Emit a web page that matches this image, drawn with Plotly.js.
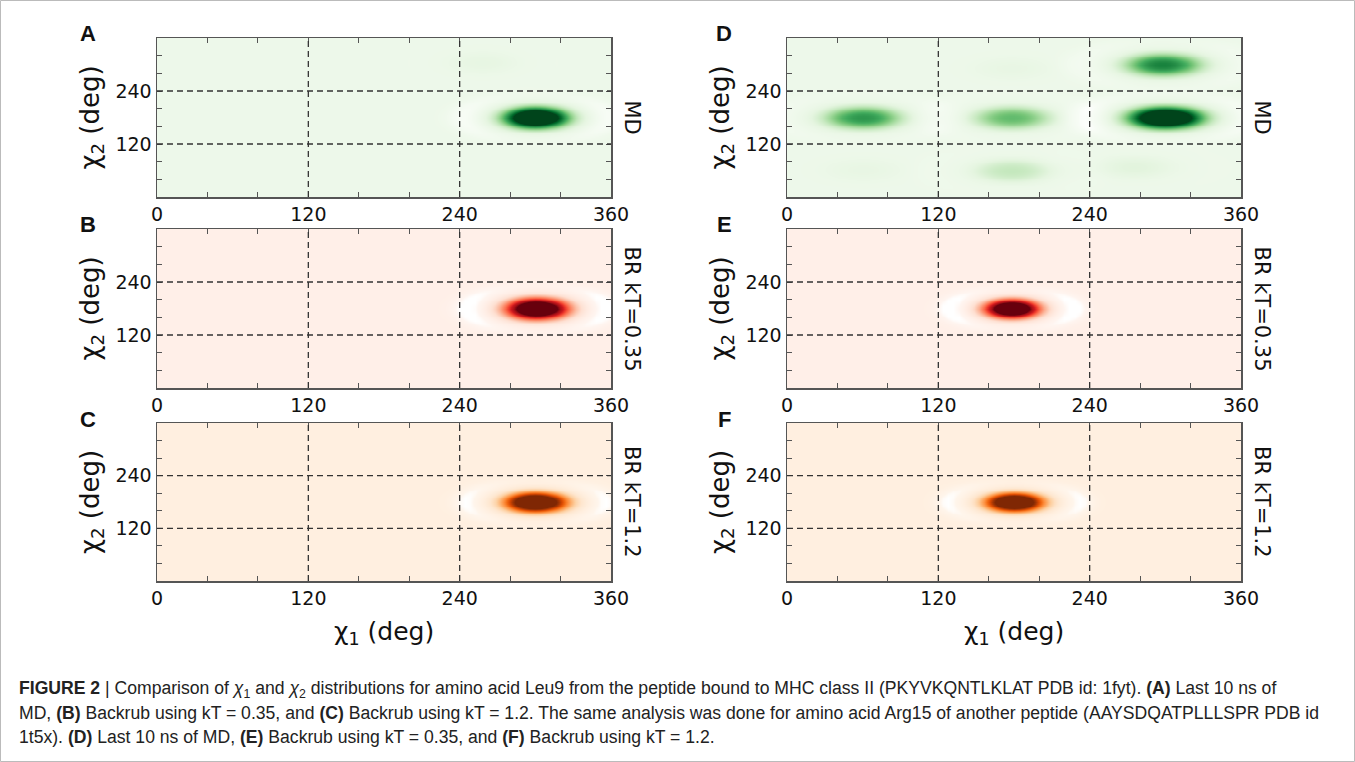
<!DOCTYPE html>
<html>
<head>
<meta charset="utf-8">
<script src="https://cdn.plot.ly/plotly-3.0.1.min.js"></script>
<style>html,body{margin:0;padding:0;background:#fff;}#chart{width:1355px;height:762px;}</style>
</head>
<body>
<div id="chart"></div>
<script>
// ---- Data (density peaks per panel, degrees) ----
const panelLetters = ["A", "B", "C", "D", "E", "F"];
const panelLabels = ["MD", "BR kT=0.35", "BR kT=1.2", "MD", "BR kT=0.35", "BR kT=1.2"];
const xTickVals = [0, 120, 240, 360];
const yTickVals = [120, 240];
const minorTickVals = [40, 80, 160, 200, 280, 320];
const gridVals = [120, 240];

// Panel A: Leu9 MD
const peaksA_x = [300, 258];
const peaksA_y = [180, 305];
const peaksA_amp = [1.0, 0.03];
// Panel B: Leu9 Backrub kT=0.35
const peaksB_x = [301];
const peaksB_y = [180];
const peaksB_amp = [1.0];
// Panel C: Leu9 Backrub kT=1.2
const peaksC_x = [300];
const peaksC_y = [180];
const peaksC_amp = [1.0];
// Panel D: Arg15 MD
const peaksD_x = [300, 298, 60, 178, 178, 275, 60, 178];
const peaksD_y = [180, 300, 180, 180, 60, 68, 62, 292];
const peaksD_amp = [1.0, 0.53, 0.47, 0.35, 0.14, 0.05, 0.025, 0.025];
// Panel E: Arg15 Backrub kT=0.35
const peaksE_x = [178];
const peaksE_y = [180];
const peaksE_amp = [1.0];
// Panel F: Arg15 Backrub kT=1.2
const peaksF_x = [180];
const peaksF_y = [180];
const peaksF_amp = [1.0];

const sigmaX = [19.5, 18.5, 18.5, 22.5, 16.5, 17.5];
const sigmaY = [18, 18, 17, 18.5, 16, 16];
const bgLevel = [0.065, 0.04, 0.05, 0.065, 0.04, 0.05];

// ---- Styles ----
const greens = ["#f7fcf5", "#e5f5e0", "#c7e9c0", "#a1d99b", "#74c476", "#41ab5d", "#238b45", "#006d2c", "#00441b"];
const reds = ["#fff5f0", "#fee0d2", "#fcbba1", "#fc9272", "#fb6a4a", "#ef3b2c", "#cb181d", "#a50f15", "#67000d"];
const oranges = ["#fff5eb", "#fee6ce", "#fdd0a2", "#fdae6b", "#fd8d3c", "#f16913", "#d94801", "#a63603", "#7f2704"];

function makeScale(c) {
  const s = [[0, "#ffffff"], [0.02, c[0]]];
  for (let i = 1; i < c.length; i++) s.push([0.02 + 0.98 * i / (c.length - 1), c[i]]);
  return s;
}

const panels = [
  {px: peaksA_x, py: peaksA_y, pa: peaksA_amp, cs: greens},
  {px: peaksB_x, py: peaksB_y, pa: peaksB_amp, cs: reds},
  {px: peaksC_x, py: peaksC_y, pa: peaksC_amp, cs: oranges},
  {px: peaksD_x, py: peaksD_y, pa: peaksD_amp, cs: greens},
  {px: peaksE_x, py: peaksE_y, pa: peaksE_amp, cs: reds},
  {px: peaksF_x, py: peaksF_y, pa: peaksF_amp, cs: oranges}
];

// evaluation grid for the smoothed density display
const step = 4;
const gx = [], gy = [];
for (let v = 0; v <= 360; v += step) { gx.push(v); gy.push(v); }

const shapeP = 1.3;
const ringR = 3.0, ringW = 0.42, ringDepth = 0.052;
function density(p, k) {
  const z = [];
  for (let j = 0; j < gy.length; j++) {
    const row = [];
    for (let i = 0; i < gx.length; i++) {
      let v = bgLevel[k];
      for (let m = 0; m < p.px.length; m++) {
        const dx = (gx[i] - p.px[m]) / sigmaX[k];
        const dy = (gy[j] - p.py[m]) / sigmaY[k];
        const r2 = dx * dx + dy * dy;
        const r = Math.sqrt(r2);
        const dir = r > 0 ? 0.15 + 0.85 * (dx * dx) / r2 : 1;
        v += p.pa[m] * (Math.exp(-0.5 * Math.pow(r2, shapeP)) - ringDepth * dir * Math.exp(-Math.pow(r - ringR, 2) / (2 * ringW * ringW)));
      }
      row.push(Math.max(0, v));
    }
    z.push(row);
  }
  return z;
}

const W = 1355, H = 762;
const colX = [[157, 611], [787, 1241]];
const rowY = [[38, 197], [229, 388], [423, 581]];

const data = [];
const layout = {
  width: W, height: H,
  margin: {l: 0, r: 0, t: 0, b: 0},
  paper_bgcolor: "#ffffff",
  plot_bgcolor: "#ffffff",
  showlegend: false,
  annotations: [],
  shapes: []
};

const tickFont = {family: "DejaVu Sans, Verdana, sans-serif", size: 19, color: "#111"};
const axCol = "#555";

panels.forEach((p, k) => {
  const col = Math.floor(k / 3), row = k % 3;
  const n = k + 1;
  const xa = "x" + (n === 1 ? "" : n), ya = "y" + (n === 1 ? "" : n);
  const xd = [colX[col][0] / W, colX[col][1] / W];
  const yd = [1 - rowY[row][1] / H, 1 - rowY[row][0] / H];
  data.push({
    type: "heatmap", x: gx, y: gy, z: density(p, k),
    xaxis: xa, yaxis: ya,
    colorscale: makeScale(p.cs), zmin: 0, zmax: 0.75,
    zsmooth: "best", showscale: false, hoverinfo: "skip"
  });
  const common = {
    range: [0, 360], ticks: "inside", ticklen: 5, tickwidth: 1, tickcolor: axCol,
    minor: {tickvals: minorTickVals, ticks: "inside", ticklen: 5, tickwidth: 1, tickcolor: axCol},
    showgrid: false, zeroline: false, showline: true, linecolor: axCol, linewidth: 1.5,
    mirror: "ticks", tickfont: tickFont, fixedrange: true
  };
  layout["xaxis" + (n === 1 ? "" : n)] = Object.assign({}, common, {
    domain: xd, anchor: ya, tickmode: "array", tickvals: xTickVals, ticktext: xTickVals.map(String)
  });
  layout["yaxis" + (n === 1 ? "" : n)] = Object.assign({}, common, {
    domain: yd, anchor: xa, tickmode: "array", tickvals: yTickVals, ticktext: yTickVals.map(String)
  });
  // dashed grid lines
  gridVals.forEach(g => {
    layout.shapes.push({type: "line", xref: xa, yref: ya, x0: g, x1: g, y0: 0, y1: 360,
      line: {color: "#333", width: 1.3, dash: "6px,4px"}});
    layout.shapes.push({type: "line", xref: xa, yref: ya, x0: 0, x1: 360, y0: g, y1: g,
      line: {color: "#333", width: 1.3, dash: "6px,4px"}});
  });
  const cy = (rowY[row][0] + rowY[row][1]) / 2;
  // panel letter
  layout.annotations.push({
    xref: "paper", yref: "paper", x: (col ? 724 : 88) / W, y: 1 - (rowY[row][0] - 4) / H,
    text: "<b>" + panelLetters[k] + "</b>", showarrow: false, xanchor: "center", yanchor: "middle",
    font: {family: "Liberation Sans, Arial, sans-serif", size: 22, color: "#111"}
  });
  // y title
  layout.annotations.push({
    xref: "paper", yref: "paper", x: (colX[col][0] - 66) / W, y: 1 - cy / H,
    text: "χ<sub>2</sub> (deg)", showarrow: false, textangle: -90, xanchor: "center", yanchor: "middle",
    font: {family: "DejaVu Sans, Verdana, sans-serif", size: 26, color: "#111"}
  });
  // right label
  layout.annotations.push({
    xref: "paper", yref: "paper", x: (colX[col][1] + 21) / W, y: 1 - cy / H,
    text: panelLabels[k], showarrow: false, textangle: 90, xanchor: "center", yanchor: "middle",
    font: {family: "DejaVu Sans, Verdana, sans-serif", size: 21, color: "#111"}
  });
  if (row === 2) {
    layout.annotations.push({
      xref: "paper", yref: "paper", x: (colX[col][0] + colX[col][1]) / 2 / W, y: 1 - 633 / H,
      text: "χ<sub>1</sub> (deg)", showarrow: false, xanchor: "center", yanchor: "middle",
      font: {family: "DejaVu Sans, Verdana, sans-serif", size: 25, color: "#111"}
    });
  }
});

// caption
const captionLines = [
  "<b>FIGURE 2</b> | Comparison of <i>χ</i><sub>1</sub> and <i>χ</i><sub>2</sub> distributions for amino acid Leu9 from the peptide bound to MHC class II (PKYVKQNTLKLAT PDB id: 1fyt). <b>(A)</b> Last 10 ns of",
  "MD, <b>(B)</b> Backrub using kT = 0.35, and <b>(C)</b> Backrub using kT = 1.2. The same analysis was done for amino acid Arg15 of another peptide (AAYSDQATPLLLSPR PDB id",
  "1t5x). <b>(D)</b> Last 10 ns of MD, <b>(E)</b> Backrub using kT = 0.35, and <b>(F)</b> Backrub using kT = 1.2."
];
const captionY = [689, 713, 737];
captionLines.forEach((t, i) => {
  layout.annotations.push({
    xref: "paper", yref: "paper", x: 17 / W, y: 1 - captionY[i] / H,
    text: t, showarrow: false, xanchor: "left", yanchor: "middle", align: "left",
    font: {family: "Liberation Sans, Arial, sans-serif", size: 17.6, color: "#222"}
  });
});
layout.shapes.push({type: "rect", xref: "paper", yref: "paper", x0: 0.5 / W, x1: 1354.5 / W, y0: 0.5 / H, y1: 761.5 / H,
  line: {color: "#bbb", width: 1}, fillcolor: "rgba(0,0,0,0)", layer: "below"});

Plotly.newPlot("chart", data, layout, {staticPlot: true, displayModeBar: false});
</script>
</body>
</html>
